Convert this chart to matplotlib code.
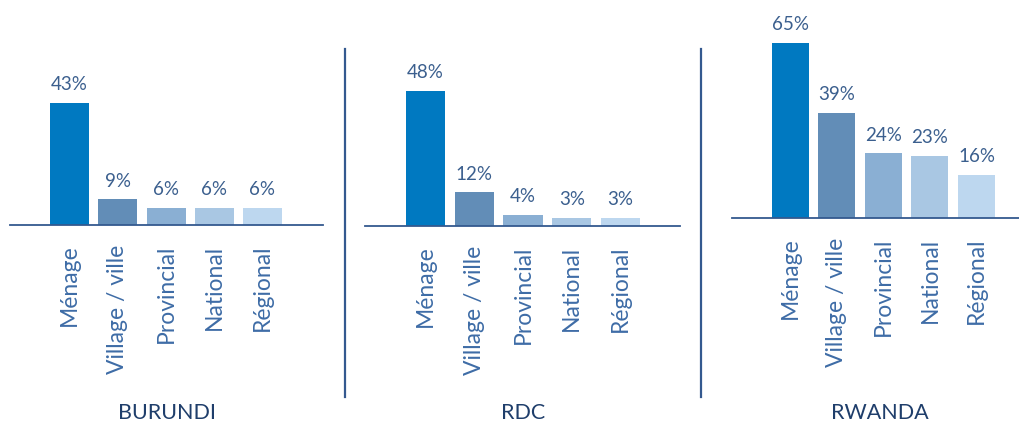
import matplotlib
matplotlib.use("Agg")
import matplotlib.pyplot as plt
from matplotlib.lines import Line2D

plt.rcParams['font.family'] = ['Lato', 'DejaVu Sans']

# Données
categories = ['Ménage', 'Village / ville', 'Provincial', 'National', 'Régional']
pays = ['BURUNDI', 'RDC', 'RWANDA']
burundi = [43, 9, 6, 6, 6]
rdc = [48, 12, 4, 3, 3]
rwanda = [65, 39, 24, 23, 16]
valeurs = [burundi, rdc, rwanda]

couleurs = ['#0079C1', '#628DB7', '#8AAFD3', '#A9C7E3', '#BDD7EF']
c_texte = '#3B5F8E'
c_cat = '#3E6CA6'
c_titre = '#1F3E6B'
c_ligne = '#34598F'

W, H = 1020, 423
fig = plt.figure(figsize=(W / 100, H / 100), dpi=100)

# mise en page en pixels : (x gauche, x droite, ligne de base, 1er centre, pas, largeur barre, px par %)
panneaux = [
    (10, 323, 225, 69.5, 48.25, 39, 2.84),
    (365, 680, 226, 425.5, 48.75, 39, 2.81),
    (732, 1020, 218, 790.5, 46.5, 37, 2.69),
]
centres_titres = [167, 523, 880]

for k, (x0, x1, base, c0, pas, larg, ech) in enumerate(panneaux):
    ax = fig.add_axes([x0 / W, (H - base) / H, (x1 - x0) / W, base / H])
    xs = list(range(len(categories)))
    barres = ax.bar(xs, valeurs[k], width=larg / pas, color=couleurs)
    ax.set_xlim((x0 - c0) / pas, (x1 - c0) / pas)
    ax.set_ylim(0, base / ech)
    for b, v in zip(barres, valeurs[k]):
        ax.annotate(f'{v}%', (b.get_x() + b.get_width() / 2, v),
                    xytext=(0, 7), textcoords='offset points',
                    ha='center', va='bottom', fontsize=13.5, color=c_texte)
    ax.set_xticks(xs)
    ax.set_xticklabels(categories, rotation=90, fontsize=16.5, color=c_cat)
    ax.tick_params(axis='x', length=0, pad=14)
    ax.set_yticks([])
    for s in ['top', 'left', 'right']:
        ax.spines[s].set_visible(False)
    ax.spines['bottom'].set_color(c_ligne)
    ax.spines['bottom'].set_linewidth(1.3)
    fig.text(centres_titres[k] / W, (H - 413) / H, pays[k], ha='center', va='center',
             fontsize=15.5, color=c_titre)

# séparateurs verticaux
for xs_ in [345, 701]:
    fig.add_artist(Line2D([xs_ / W, xs_ / W], [(H - 49) / H, (H - 397) / H],
                          color=c_ligne, lw=1.6, transform=fig.transFigure))

fig.savefig('out.png', dpi=100)
